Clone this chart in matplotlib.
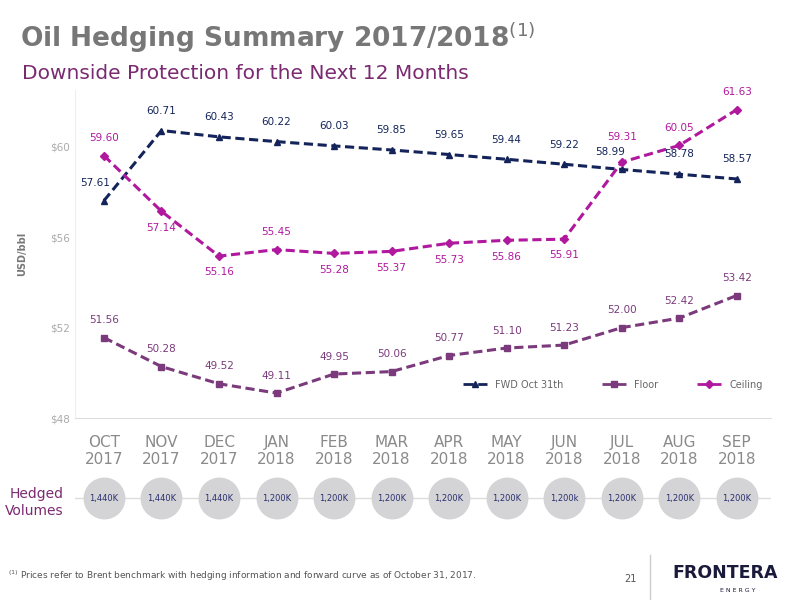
import matplotlib
matplotlib.use("Agg")
import matplotlib.pyplot as plt
from matplotlib.lines import Line2D

months = ["OCT\n2017", "NOV\n2017", "DEC\n2017", "JAN\n2018", "FEB\n2018", "MAR\n2018",
          "APR\n2018", "MAY\n2018", "JUN\n2018", "JUL\n2018", "AUG\n2018", "SEP\n2018"]
fwd = [57.61, 60.71, 60.43, 60.22, 60.03, 59.85, 59.65, 59.44, 59.22, 58.99, 58.78, 58.57]
floor = [51.56, 50.28, 49.52, 49.11, 49.95, 50.06, 50.77, 51.10, 51.23, 52.00, 52.42, 53.42]
ceiling = [59.60, 57.14, 55.16, 55.45, 55.28, 55.37, 55.73, 55.86, 55.91, 59.31, 60.05, 61.63]
volumes = ["1,440K", "1,440K", "1,440K", "1,200K", "1,200K", "1,200K",
           "1,200K", "1,200K", "1,200k", "1,200K", "1,200K", "1,200K"]

C_FWD = "#14245a"
C_FLOOR = "#7b3a7b"
C_CEIL = "#b0189e"
GRAY = "#8a8a8a"

fig = plt.figure(figsize=(8, 6), dpi=100)
fig.text(0.025, 0.937, r"Oil Hedging Summary 2017/2018$^{(1)}$", fontsize=19,
         color="#777777", fontweight="bold", va="center")
fig.text(0.028, 0.877, "Downside Protection for the Next 12 Months", fontsize=14.5,
         color="#7b2a72", va="center")

ax = fig.add_axes([0.094, 0.303, 0.87, 0.547])
x = list(range(len(months)))
ax.plot(x, fwd, ls="--", lw=2.2, color=C_FWD, marker="^", ms=5, dashes=(3, 1.5))
ax.plot(x, floor, ls="--", lw=2.2, color=C_FLOOR, marker="s", ms=5, dashes=(3, 1.5))
ax.plot(x, ceiling, ls="--", lw=2.2, color=C_CEIL, marker="D", ms=4, dashes=(3, 1.5))

fs = 7.5
fwd_off = {0: (-0.15, 0.55), 9: (-0.2, 0.55)}
for i, v in enumerate(fwd):
    dx, dy = fwd_off.get(i, (0, 0.65))
    ax.text(i + dx, v + dy, f"{v:.2f}", color=C_FWD, fontsize=fs, ha="center", va="bottom")
for i, v in enumerate(floor):
    ax.text(i, v + 0.55, f"{v:.2f}", color=C_FLOOR, fontsize=fs, ha="center", va="bottom")
ceil_below = [1, 2, 4, 5, 6, 7, 8]
for i, v in enumerate(ceiling):
    if i in ceil_below:
        ax.text(i, v - 0.5, f"{v:.2f}", color=C_CEIL, fontsize=fs, ha="center", va="top")
    else:
        dy = 0.9 if i == 9 else 0.55
        ax.text(i, v + dy, f"{v:.2f}", color=C_CEIL, fontsize=fs, ha="center", va="bottom")

ax.set_xlim(-0.5, 11.6)
ax.set_ylim(48, 62.5)
ax.set_yticks([48, 52, 56, 60])
ax.set_yticklabels(["$48", "$52", "$56", "$60"], color="#aaaaaa", fontsize=7.5)
ax.set_xticks(x)
ax.set_xticklabels(months, color=GRAY, fontsize=11)
ax.tick_params(length=0, pad=12)
ax.tick_params(axis="y", pad=4)
for s in ["top", "right"]:
    ax.spines[s].set_visible(False)
ax.spines["left"].set_color("#eeeeee")
ax.spines["bottom"].set_color("#dddddd")
ax.set_ylabel("USD/bbl", fontsize=7, color="#777777", fontweight="bold", labelpad=16)

handles = [Line2D([], [], color=C_FWD, ls="--", marker="^", ms=5, lw=2),
           Line2D([], [], color=C_FLOOR, ls="--", marker="s", ms=5, lw=2),
           Line2D([], [], color=C_CEIL, ls="--", marker="D", ms=4, lw=2)]
leg = ax.legend(handles, ["FWD Oct 31th", "Floor", "Ceiling"], ncol=3, frameon=False,
                loc="lower right", bbox_to_anchor=(1.0, 0.06), fontsize=7, columnspacing=4,
                handlelength=2.5)
for t in leg.get_texts():
    t.set_color("#666666")

vax = fig.add_axes([0.094, 0.13, 0.87, 0.08])
vax.set_xlim(-0.5, 11.6)
vax.set_ylim(-1, 1)
vax.axhline(0, color="#dddddd", lw=1, zorder=0)
vax.scatter(x, [0] * len(x), s=850, color="#d4d4d6", zorder=2)
for i, lab in enumerate(volumes):
    vax.text(i, 0, lab, fontsize=6, color="#2a2f70", ha="center", va="center", zorder=3)
vax.axis("off")
fig.text(0.08, 0.163, "Hedged\nVolumes", fontsize=10, color="#7b2a72", ha="right",
         va="center", linespacing=1.3)

fig.text(0.01, 0.04, r"$^{(1)}$ Prices refer to Brent benchmark with hedging information and forward curve as of October 31, 2017.",
         fontsize=6.5, color="#555555", va="center")
fig.text(0.78, 0.035, "21", fontsize=7, color="#555555", va="center")
fig.add_artist(Line2D([0.812, 0.812], [0.0, 0.075], color="#cccccc", lw=1))
fig.text(0.84, 0.045, "FRONTERA", fontsize=12.5, color="#1a1a3a", fontweight="bold", va="center")
fig.text(0.90, 0.015, "E N E R G Y", fontsize=4.5, color="#1a1a3a", va="center")

fig.savefig("out.png", dpi=100)
